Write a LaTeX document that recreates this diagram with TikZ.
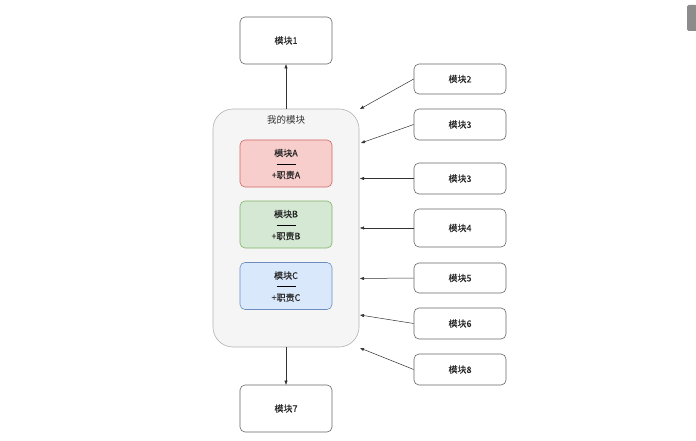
\documentclass[tikz,border=0pt]{standalone}
\usepackage{fontspec}
\setmainfont{Noto Sans CJK SC}
\newfontfamily\semib[FakeBold=0.3]{Noto Sans CJK SC}
\usetikzlibrary{arrows.meta}
\definecolor{lineC}{HTML}{333333}
\definecolor{boxS}{HTML}{666666}
\begin{document}
\begin{tikzpicture}[x=1pt,y=-1pt,
  mod/.style={draw=boxS, line width=0.6pt, rounded corners=5pt, fill=white, minimum width=92pt, inner sep=0pt, font=\semib\fontsize{9}{11}\selectfont, text=black!85},
  inner/.style={rounded corners=5pt, line width=0.6pt, minimum width=92pt, minimum height=47pt, inner sep=0pt},
  lbl/.style={font=\semib\fontsize{9}{11}\selectfont, text=black!85},
  conn/.style={draw=lineC, line width=0.5pt, -{Triangle[length=4pt,width=3pt]}}]
\useasboundingbox (0,0) rectangle (696,441);
\fill[white] (0,0) rectangle (696,441);
% scrollbar artifact
\fill[gray!90, rounded corners=1.5pt] (687,5) rectangle (697,31);
% main container
\node[draw=gray!60, fill=gray!8, rounded corners=20pt, line width=0.6pt, minimum width=146pt, minimum height=238pt, inner sep=0pt] (main) at (286,228) {};
\node[font=\fontsize{9.5}{11}\selectfont, text=black!80] (title) at (286,120) {我的模块};
% inner boxes
\node[inner, draw=red!50!gray!80, fill={rgb,255:red,248;green,206;blue,204}] (A) at (286,163.5) {};
\node[inner, draw={rgb,255:red,130;green,179;blue,102}, fill={rgb,255:red,213;green,232;blue,212}] (B) at (286,224.5) {};
\node[inner, draw={rgb,255:red,108;green,142;blue,191}, fill={rgb,255:red,218;green,232;blue,252}] (C) at (286,286) {};
\foreach \n/\l in {A/A,B/B,C/C}{
  \node[lbl] (\n t) at ([yshift=10.5pt]\n.center) {模块\l};
  \node[lbl] (\n r) at ([yshift=-11.5pt]\n.center) {+职责\l};
  \draw[black, line width=0.6pt] ([xshift=-9.5pt,yshift=-0.5pt]\n.center) -- ([xshift=9.5pt,yshift=-0.5pt]\n.center);
}
% top and bottom modules
\node[mod, minimum height=47pt] (m1) at (286,40.5) {模块1};
\node[mod, minimum height=47pt] (m7) at (286,408.5) {模块7};
\draw[conn] (main.north) -- (m1.south);
\draw[conn] (main.south) -- (m7.north);
% right modules
\node[mod, minimum height=30pt] (m2) at (460,79) {模块2};
\node[mod, minimum height=31pt] (m3a) at (460,124.5) {模块3};
\node[mod, minimum height=31pt] (m3b) at (460,178.5) {模块3};
\node[mod, minimum height=38pt] (m4) at (460,228) {模块4};
\node[mod, minimum height=30pt] (m5) at (460,278) {模块5};
\node[mod, minimum height=31pt] (m6) at (460,323.5) {模块6};
\node[mod, minimum height=31pt] (m8) at (460,369.5) {模块8};
\coordinate (e2) at (360,109);
\coordinate (e3a) at (361,143);
\coordinate (e3b) at (360,178.5);
\coordinate (e4) at (360,228);
\coordinate (e5) at (360,278.5);
\coordinate (e6) at (360,315);
\coordinate (e8) at (360,348);
\draw[conn] (m2.west) -- (e2);
\draw[conn] (m3a.west) -- (e3a);
\draw[conn] (m3b.west) -- (e3b);
\draw[conn] (m4.west) -- (e4);
\draw[conn] (m5.west) -- (e5);
\draw[conn] (m6.west) -- (e6);
\draw[conn] (m8.west) -- (e8);
\end{tikzpicture}
\end{document}
